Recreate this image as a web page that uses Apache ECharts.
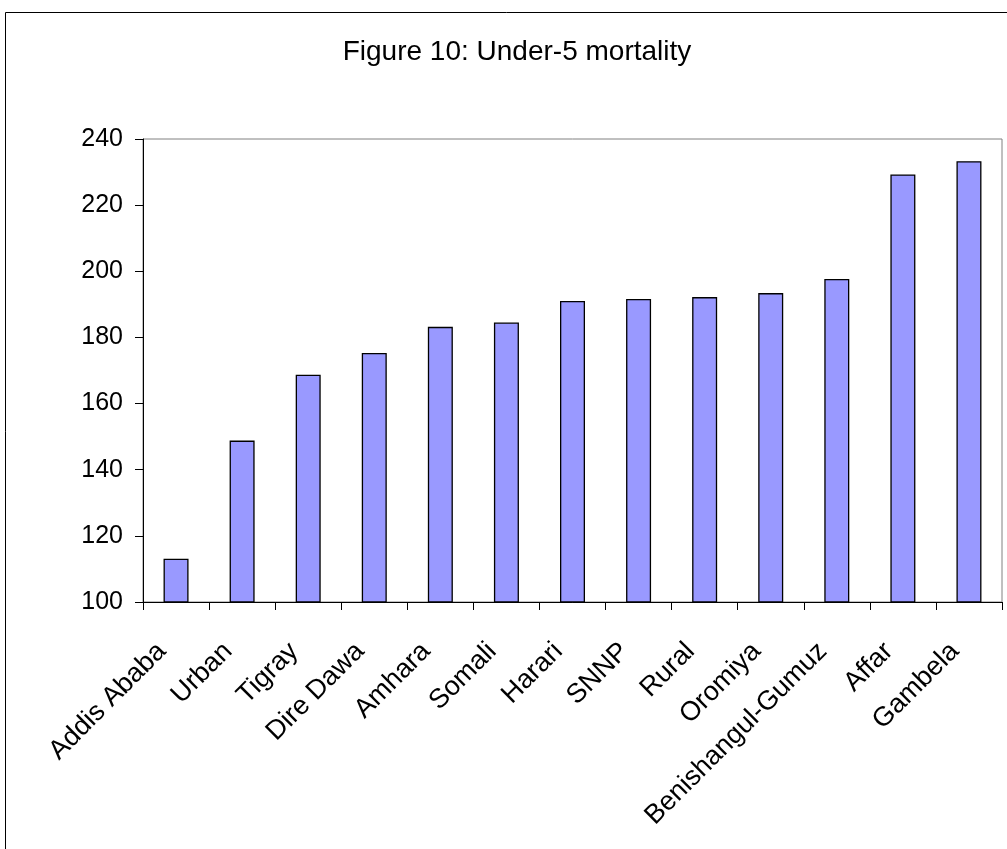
<!DOCTYPE html>
<html>
<head>
<meta charset="utf-8">
<script src="https://cdn.jsdelivr.net/npm/echarts@6/dist/echarts.min.js"></script>
<style>
  html, body { margin: 0; padding: 0; background: #ffffff; }
  #chart { width: 1007px; height: 849px; }
</style>
</head>
<body>
<div id="chart"></div>
<script>
// Under-5 mortality by region / residence
const titleText = 'Figure 10: Under-5 mortality';
const regions = ['Addis Ababa', 'Urban', 'Tigray', 'Dire Dawa', 'Amhara', 'Somali', 'Harari',
                 'SNNP', 'Rural', 'Oromiya', 'Benishangul-Gumuz', 'Affar', 'Gambela'];
const mortality = [113.1, 148.8, 168.7, 175.3, 183.2, 184.5, 191.0, 191.6, 192.2, 193.4, 197.7, 229.3, 233.3];
const yTicks = { min: 100, max: 240, step: 20 };

const FONT = 'Liberation Sans, Arial, sans-serif';
const chart = echarts.init(document.getElementById('chart'), null, { renderer: 'canvas' });

chart.setOption({
  backgroundColor: '#ffffff',
  animation: false,
  graphic: [
    {
      type: 'rect',
      shape: { x: 5.5, y: 12.5, width: 1040, height: 900 },
      style: { fill: 'none', stroke: '#000000', lineWidth: 1 },
      silent: true
    },
    {
      type: 'text',
      style: {
        text: titleText,
        x: 517, y: 52,
        textAlign: 'center',
        textVerticalAlign: 'middle',
        fontFamily: FONT,
        fontSize: 28,
        fill: '#000000'
      }
    }
  ],
  grid: {
    left: 143, right: 5, top: 139, bottom: 247,
    show: true,
    borderColor: '#808080',
    borderWidth: 1,
    backgroundColor: 'transparent'
  },
  xAxis: {
    type: 'category',
    data: regions,
    boundaryGap: true,
    axisLine: { lineStyle: { color: '#000000', width: 1 } },
    axisTick: { show: true, alignWithLabel: false, length: 8, lineStyle: { color: '#000000' } },
    axisLabel: {
      interval: 0,
      rotate: 45,
      margin: 31,
      padding: [0, 20, 0, 0],
      fontFamily: FONT,
      fontSize: 27,
      color: '#000000'
    },
    splitLine: { show: false }
  },
  yAxis: {
    type: 'value',
    min: yTicks.min,
    max: yTicks.max,
    interval: yTicks.step,
    axisLine: { show: true, lineStyle: { color: '#000000', width: 1 } },
    axisTick: { show: true, length: 8, lineStyle: { color: '#000000' } },
    axisLabel: {
      margin: 20,
      fontFamily: FONT,
      fontSize: 25,
      color: '#000000'
    },
    splitLine: { show: false }
  },
  series: [{
    type: 'bar',
    data: mortality,
    barWidth: 25,
    itemStyle: { color: '#9999FF', borderColor: '#000000', borderWidth: 1.3 }
  }]
});
</script>
</body>
</html>
